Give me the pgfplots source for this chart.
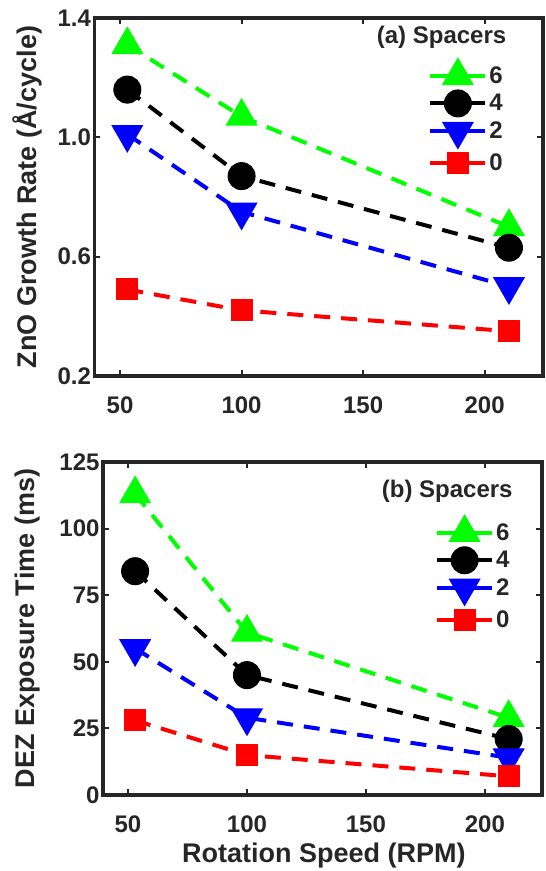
\documentclass[border=0pt]{standalone}
\usepackage{fontspec}
\setmainfont{Liberation Sans}
\usepackage{pgfplots}
\pgfplotsset{compat=1.18}

\definecolor{mgreen}{RGB}{0,255,0}
\definecolor{mblue}{RGB}{0,0,255}
\definecolor{mred}{RGB}{255,0,0}
\definecolor{axgray}{RGB}{38,38,38}

\pgfplotsset{
  spacers/.style={
    scale only axis,
    clip=false,
    xmin=39.5, xmax=224,
    xtick={50,100,150,200}, xticklabels={50,100,150,200},
    tick align=inside,
    major tick length=6pt,
    every tick/.style={axgray, line width=2pt},
    axis line style={axgray, line width=3.5pt},
    ticklabel style={font=\fontsize{24}{24}\selectfont\bfseries, text=axgray},
    xticklabel style={yshift=-17pt},
    label style={font=\fontsize{27}{27}\selectfont\bfseries, text=axgray},
    legend style={draw=none, fill=none, font=\fontsize{24}{24}\selectfont\bfseries,
      text=axgray, anchor=north west, inner sep=0pt, row sep=3pt},
    legend image code/.code={%
      \draw[mark repeat=2, mark phase=2, solid]
        plot coordinates {(0pt,0pt) (27.5pt,0pt) (55pt,0pt)};},
    legend cell align=left,
  },
  dline/.style={line width=4pt, dash pattern=on 16pt off 11pt},
  six/.style={dline, color=mgreen, mark=triangle*, mark size=17.5pt,
    mark options={solid, line width=1pt}},
  four/.style={dline, color=black, mark=*, mark size=13.5pt,
    mark options={solid, line width=1pt}},
  two/.style={dline, color=mblue, mark=triangle*, mark size=17.5pt,
    mark options={solid, line width=1pt, rotate=180}},
  zero/.style={dline, color=mred, mark=square*, mark size=10.5pt,
    mark options={solid, line width=1pt, line join=round}},
}

\begin{document}
\begin{tikzpicture}[x=1pt, y=1pt]
\useasboundingbox (0,0) rectangle (546,871);

% (a) growth rate per cycle
\begin{axis}[spacers,
  at={(94.5pt,495pt)}, anchor=south west,
  width=448.5pt, height=358pt,
  ymin=0.2, ymax=1.4,
  ytick={0.2,0.6,1.0,1.4}, yticklabels={0.2,0.6,1.0,1.4},
  ylabel={ZnO Growth Rate (Å/cycle)},
  ylabel style={at={(axis description cs:-0.1505,0.5)}, anchor=center},
  legend style={at={(axis description cs:0.744,0.888)}},
]
\addplot[six]  coordinates {(53,1.31) (100,1.07) (210,0.70)};
\addlegendentry{6}
\addplot[four] coordinates {(53,1.16) (100,0.87) (210,0.63)};
\addlegendentry{4}
\addplot[two]  coordinates {(53,1.01) (100,0.75) (210,0.50)};
\addlegendentry{2}
\addplot[zero] coordinates {(53,0.49) (100,0.42) (210,0.35)};
\addlegendentry{0}
\node[anchor=east, font=\fontsize{24}{24}\selectfont\bfseries, text=axgray]
  at (axis description cs:0.926,0.947) {(a) Spacers};
\end{axis}

% (b) DEZ exposure time
\begin{axis}[spacers,
  at={(103pt,76pt)}, anchor=south west,
  width=439pt, height=333pt,
  ymin=0, ymax=125,
  ytick={0,25,50,75,100,125}, yticklabels={0,25,50,75,100,125},
  ylabel={DEZ Exposure Time (ms)},
  ylabel style={at={(axis description cs:-0.172,0.5)}, anchor=center},
  xlabel={Rotation Speed (RPM)},
  xlabel style={at={(axis description cs:0.503,-0.183)}, anchor=center},
  legend style={at={(axis description cs:0.756,0.841)}},
]
\addplot[six]  coordinates {(53,113) (100,61) (210,29)};
\addlegendentry{6}
\addplot[four] coordinates {(53,84) (100,45) (210,21)};
\addlegendentry{4}
\addplot[two]  coordinates {(53,55) (100,29) (210,14)};
\addlegendentry{2}
\addplot[zero] coordinates {(53,28) (100,15) (210,7)};
\addlegendentry{0}
\node[anchor=east, font=\fontsize{24}{24}\selectfont\bfseries, text=axgray]
  at (axis description cs:0.941,0.913) {(b) Spacers};
\end{axis}
\end{tikzpicture}
\end{document}
